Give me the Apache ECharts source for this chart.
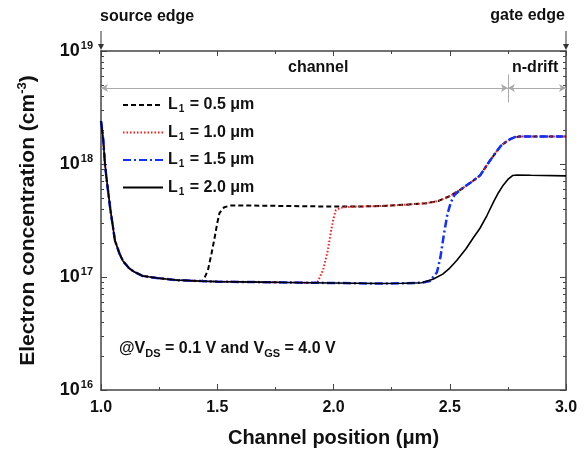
<!DOCTYPE html>
<html>
<head>
<meta charset="utf-8">
<script src="https://cdn.jsdelivr.net/npm/echarts@6/dist/echarts.min.js"></script>
<style>
  html, body { margin: 0; padding: 0; background: #fff; }
  #main { width: 587px; height: 453px; }
</style>
</head>
<body>
<div id="main"></div>
<script>
// x in um, electron concentration in cm^-3
var xDecay = [1.0, 1.005, 1.01, 1.017, 1.025, 1.04, 1.06, 1.08, 1.095, 1.12, 1.14, 1.18, 1.24, 1.32, 1.43];
var nDecay = [2.4e18, 2.0e18, 1.6e18, 1.0e18, 7.1e17, 4.0e17, 2.1e17, 1.6e17, 1.38e17, 1.2e17, 1.12e17, 1.02e17, 9.8e16, 9.4e16, 9.2e16];

var xFlat = [1.5, 1.6, 1.7, 1.8, 1.9, 2.0, 2.1, 2.2, 2.3, 2.38];
var nFlat = [9.1e16, 9.05e16, 9.0e16, 8.95e16, 8.9e16, 8.85e16, 8.8e16, 8.75e16, 8.8e16, 8.9e16];

var xPlat = [1.6, 1.8, 2.0, 2.1, 2.2, 2.3, 2.4, 2.45, 2.5, 2.55, 2.6, 2.63, 2.67, 2.7, 2.72, 2.74, 2.76, 2.78, 2.8, 3.0];
var nPlat = [4.3e17, 4.25e17, 4.2e17, 4.2e17, 4.25e17, 4.35e17, 4.5e17, 4.7e17, 5.2e17, 6.0e17, 7.1e17, 7.9e17, 1.05e18, 1.28e18, 1.45e18, 1.56e18, 1.66e18, 1.73e18, 1.75e18, 1.75e18];

var xRise05 = [1.44, 1.46, 1.475, 1.49, 1.5, 1.51, 1.53, 1.56];
var nRise05 = [9.3e16, 1.15e17, 1.6e17, 2.3e17, 3.0e17, 3.7e17, 4.15e17, 4.3e17];

var xRise10 = [1.93, 1.955, 1.975, 1.99, 2.0, 2.01, 2.03, 2.05];
var nRise10 = [8.9e16, 1.15e17, 1.7e17, 2.6e17, 3.3e17, 3.9e17, 4.1e17, 4.15e17];

var xRise15 = [2.415, 2.445, 2.46, 2.475, 2.49, 2.505, 2.52];
var nRise15 = [9.2e16, 1.1e17, 1.5e17, 2.4e17, 3.6e17, 4.6e17, 5.3e17];

var xRise20 = [2.43, 2.47, 2.5, 2.53, 2.57, 2.6, 2.63, 2.66, 2.69, 2.71, 2.73, 2.75, 2.77, 2.79, 2.85, 3.0];
var nRise20 = [9.6e16, 1.06e17, 1.2e17, 1.4e17, 1.78e17, 2.2e17, 2.7e17, 3.5e17, 4.7e17, 5.6e17, 6.5e17, 7.3e17, 7.9e17, 8.0e17, 7.95e17, 7.85e17];

var seriesNames = ['L1 = 0.5 μm', 'L1 = 1.0 μm', 'L1 = 1.5 μm', 'L1 = 2.0 μm'];

// channel / n-drift boundary markers
var driftStart = 2.75;
var arrowLevel = 4.7e18;
var dividerTop = 6.2e18;
var dividerBottom = 3.5e18;

function pairs(xs, ys) {
  return xs.map(function (x, i) { return [x, ys[i]]; });
}
function after(list, x0) {
  return list.filter(function (p) { return p[0] > x0; });
}
function before(list, x0) {
  return list.filter(function (p) { return p[0] < x0; });
}

var decay = pairs(xDecay, nDecay);
var flat = pairs(xFlat, nFlat);
var plat = pairs(xPlat, nPlat);

var data05 = decay.concat(pairs(xRise05, nRise05), after(plat, 1.56));
var data10 = decay.concat(before(flat, 1.93), pairs(xRise10, nRise10), after(plat, 2.05));
var data15 = decay.concat(flat, pairs(xRise15, nRise15), after(plat, 2.53));
var data20 = decay.concat(flat, pairs(xRise20, nRise20));

var FONT = 'Arial, "Liberation Sans", sans-serif';
var AXIS = '#444';

// minor log ticks (2..9 in each decade) for the hidden helper axes
var minorExp = [];
for (var d = 16; d < 19; d++) {
  for (var k = 2; k <= 9; k++) minorExp.push(d + Math.log10(k));
}

var myChart = echarts.init(document.getElementById('main'));

var minorAxis = function (pos) {
  return {
    type: 'value', position: pos, min: 16, max: 19,
    axisLine: { show: false },
    axisTick: { show: true, inside: true, length: 3, customValues: minorExp, lineStyle: { color: AXIS } },
    axisLabel: { show: false },
    splitLine: { show: false }
  };
};

var option = {
  animation: false,
  backgroundColor: '#fff',
  grid: { left: 101, right: 21, top: 51, bottom: 60 },
  legend: {
    orient: 'vertical',
    left: 117,
    top: 92,
    itemWidth: 40,
    itemHeight: 14,
    itemGap: 10,
    data: seriesNames,
    itemStyle: { color: 'transparent', opacity: 0, borderWidth: 0 },
    formatter: function (name) {
      var rest = name.replace('L1', '');
      return '{b|L}{sub|1}{b|' + rest + '}';
    },
    textStyle: {
      rich: {
        b: { fontFamily: FONT, fontWeight: 'bold', fontSize: 16, color: '#111' },
        sub: { fontFamily: FONT, fontWeight: 'bold', fontSize: 10, color: '#111', padding: [9, 1, 0, 1] }
      }
    }
  },
  xAxis: [
    {
      type: 'value', position: 'bottom', min: 1, max: 3, interval: 0.5,
      name: 'Channel position (μm)',
      nameLocation: 'middle', nameGap: 38,
      nameTextStyle: { fontFamily: FONT, fontWeight: 'bold', fontSize: 20, color: '#111' },
      axisLine: { lineStyle: { color: AXIS, width: 1.5 } },
      axisTick: { inside: true, length: 6, lineStyle: { color: AXIS } },
      minorTick: { show: true, splitNumber: 2, length: 3, lineStyle: { color: AXIS } },
      axisLabel: {
        margin: 10, fontFamily: FONT, fontWeight: 'bold', fontSize: 16, color: '#111',
        formatter: function (v) { return v.toFixed(1); }
      },
      splitLine: { show: false }
    },
    {
      type: 'value', position: 'top', min: 1, max: 3, interval: 0.5,
      axisLine: { lineStyle: { color: AXIS, width: 1.5 } },
      axisTick: { inside: true, length: 5, lineStyle: { color: AXIS } },
      minorTick: { show: true, splitNumber: 2, length: 3, lineStyle: { color: AXIS } },
      axisLabel: { show: false },
      splitLine: { show: false }
    }
  ],
  yAxis: [
    {
      type: 'log', position: 'left', min: 1e16, max: 1e19, logBase: 10,
      name: '{t|Electron concentration (cm}{s|-3}{t|)}',
      nameLocation: 'middle', nameGap: 60, nameRotate: 90,
      nameTextStyle: {
        rich: {
          t: { fontFamily: FONT, fontWeight: 'bold', fontSize: 21, color: '#111' },
          s: { fontFamily: FONT, fontWeight: 'bold', fontSize: 13, color: '#111', padding: [0, 0, 12, 0] }
        }
      },
      axisLine: { lineStyle: { color: AXIS, width: 1.5 } },
      axisTick: { inside: true, length: 6, lineStyle: { color: AXIS } },
      axisLabel: {
        margin: 8,
        formatter: function (v) {
          return '{b|10}{s|' + Math.round(Math.log10(v)) + '}';
        },
        rich: {
          b: { fontFamily: FONT, fontWeight: 'bold', fontSize: 18, color: '#111' },
          s: { fontFamily: FONT, fontWeight: 'bold', fontSize: 11, color: '#111', padding: [0, 0, 10, 1] }
        }
      },
      splitLine: { show: false }
    },
    {
      type: 'log', position: 'right', min: 1e16, max: 1e19, logBase: 10,
      axisLine: { lineStyle: { color: AXIS, width: 1.5 } },
      axisTick: { inside: true, length: 6, lineStyle: { color: AXIS } },
      axisLabel: { show: false },
      splitLine: { show: false }
    },
    minorAxis('left'),
    minorAxis('right')
  ],
  series: [
    {
      name: seriesNames[0], type: 'line', showSymbol: false, symbol: 'none',
      data: data05,
      lineStyle: { color: '#000', width: 2, type: [5, 3] },
      itemStyle: { color: '#000' },
      markLine: {
        silent: true, animation: false,
        symbol: ['arrow', 'arrow'], symbolSize: [6, 7],
        label: { show: false },
        lineStyle: { color: '#aaa', width: 1, type: 'solid' },
        data: [
          [{ coord: [1.0, arrowLevel] }, { coord: [driftStart, arrowLevel] }],
          [{ coord: [driftStart, arrowLevel] }, { coord: [3.0, arrowLevel] }],
          [{ coord: [driftStart, dividerTop], symbol: 'none' }, { coord: [driftStart, dividerBottom], symbol: 'none' }]
        ]
      }
    },
    {
      name: seriesNames[1], type: 'line', showSymbol: false, symbol: 'none',
      data: data10,
      lineStyle: { color: '#ff1a1a', width: 2, type: [1.5, 2] },
      itemStyle: { color: '#ff1a1a' }
    },
    {
      name: seriesNames[2], type: 'line', showSymbol: false, symbol: 'none',
      data: data15,
      lineStyle: { color: '#1030ff', width: 2.5, type: [8, 3, 2, 3] },
      itemStyle: { color: '#1030ff' }
    },
    {
      name: seriesNames[3], type: 'line', showSymbol: false, symbol: 'none',
      data: data20,
      lineStyle: { color: '#000', width: 1.6, type: 'solid' },
      itemStyle: { color: '#000' }
    }
  ],
  graphic: [
    { type: 'text', left: 100, top: 9, style: { text: 'source edge', font: 'bold 16px ' + FONT, fill: '#111' } },
    { type: 'text', right: 22, top: 8, style: { text: 'gate edge', font: 'bold 16px ' + FONT, fill: '#111' } },
    { type: 'line', shape: { x1: 101, y1: 31, x2: 101, y2: 45 }, style: { stroke: '#333', lineWidth: 1 } },
    { type: 'polygon', shape: { points: [[98, 44], [104, 44], [101, 50]] }, style: { fill: '#333' } },
    { type: 'line', shape: { x1: 566, y1: 31, x2: 566, y2: 45 }, style: { stroke: '#333', lineWidth: 1 } },
    { type: 'polygon', shape: { points: [[563, 44], [569, 44], [566, 50]] }, style: { fill: '#333' } },
    { type: 'text', left: 288, top: 60, style: { text: 'channel', font: 'bold 16px ' + FONT, fill: '#111' } },
    { type: 'text', left: 512, top: 60, style: { text: 'n-drift', font: 'bold 16px ' + FONT, fill: '#111' } },
    {
      type: 'text', left: 119, top: 341,
      style: {
        text: '{m|@V}{s|DS}{m| = 0.1 V and V}{s|GS}{m| = 4.0 V}',
        rich: {
          m: { font: 'bold 16px ' + FONT, fill: '#111' },
          s: { font: 'bold 11px ' + FONT, fill: '#111', padding: [9, 0, 0, 0] }
        }
      }
    }
  ]
};

myChart.setOption(option);
</script>
</body>
</html>
